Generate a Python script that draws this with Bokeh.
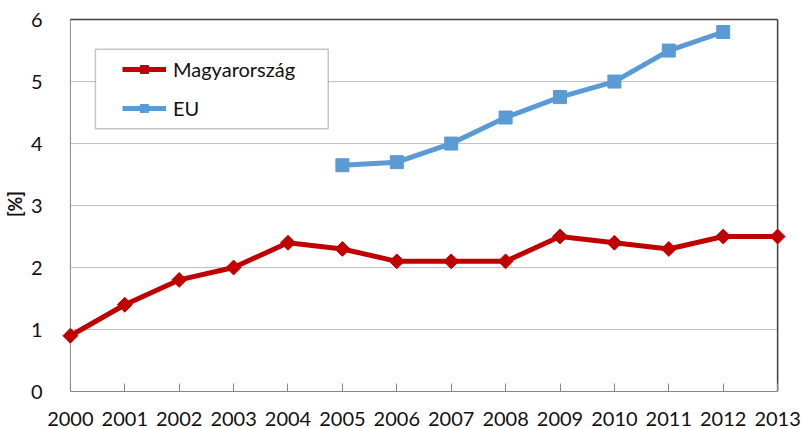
import math
from bokeh.plotting import figure
from bokeh.models import Range1d, FixedTicker, Legend, LegendItem, BoxAnnotation
from bokeh.embed import file_html
from bokeh.resources import INLINE

years = list(range(2000, 2014))
hu_values = [0.9, 1.4, 1.8, 2.0, 2.4, 2.3, 2.1, 2.1, 2.1, 2.5, 2.4, 2.3, 2.5, 2.5]
eu_years = list(range(2005, 2013))
eu_values = [3.65, 3.7, 4.0, 4.42, 4.75, 5.0, 5.5, 5.8]
y_ticks = [0, 1, 2, 3, 4, 5, 6]
series_names = ["Magyarország", "EU"]

FONT = "Lato"
RED = "#C00000"
BLUE = "#5B9BD5"
TXT = "#111111"
PAD_X = 0.2   # extra frame room (years) so edge markers are not clipped
PAD_Y = 0.05  # extra frame room on top so the top border is not clipped

p = figure(width=801, height=428, output_backend="svg", toolbar_location=None,
           x_range=Range1d(years[0] - PAD_X, years[-1] + PAD_X),
           y_range=Range1d(y_ticks[0], y_ticks[-1] + PAD_Y),
           min_border_left=59, min_border_right=13, min_border_top=16, min_border_bottom=37)
p.outline_line_color = None
p.background_fill_color = "white"
p.border_fill_color = "white"
p.xgrid.visible = False
p.ygrid.visible = False

# horizontal gridlines spanning the category extent only
p.segment(x0=[years[0]] * (len(y_ticks) - 2), x1=[years[-1]] * (len(y_ticks) - 2),
          y0=y_ticks[1:-1], y1=y_ticks[1:-1], line_color="#BFBFBF", line_width=1)
# left value-axis line
p.segment(x0=[years[0]], x1=[years[0]], y0=[y_ticks[0]], y1=[y_ticks[-1]],
          line_color="#868686", line_width=1)
# top and right plot-area border
p.segment(x0=[years[0], years[-1]], x1=[years[-1], years[-1]],
          y0=[y_ticks[-1], y_ticks[0]], y1=[y_ticks[-1], y_ticks[-1]],
          line_color="#404040", line_width=1.5)

xa = p.xaxis[0]
xa.ticker = FixedTicker(ticks=years)
xa.bounds = (years[0], years[-1])
xa.major_label_overrides = {y: str(y) for y in years}
xa.axis_line_color = "#868686"
xa.major_tick_line_color = "#868686"
xa.major_tick_in = 8
xa.major_tick_out = 0
xa.minor_tick_line_color = None
xa.major_label_standoff = 20
xa.major_label_text_font = FONT
xa.major_label_text_font_size = "20px"
xa.major_label_text_color = TXT

ya = p.yaxis[0]
ya.ticker = FixedTicker(ticks=y_ticks)
ya.axis_line_color = None
ya.major_tick_line_color = None
ya.minor_tick_line_color = None
ya.major_label_standoff = 11
ya.major_label_text_font = FONT
ya.major_label_text_font_size = "20px"
ya.major_label_text_color = TXT
ya.axis_label = "[%]"
ya.axis_label_text_font = FONT
ya.axis_label_text_font_size = "18px"
ya.axis_label_text_font_style = "bold"
ya.axis_label_text_color = TXT
ya.axis_label_standoff = 2

hu_line = p.line(years, hu_values, line_color=RED, line_width=5, line_join="round")
hu_pts = p.scatter(years, hu_values, marker="square", angle=math.pi / 4, size=10.5,
                   fill_color=RED, line_color=RED, line_width=1)
eu_line = p.line(eu_years, eu_values, line_color=BLUE, line_width=5, line_join="round")
eu_pts = p.scatter(eu_years, eu_values, marker="square", size=13, fill_color=BLUE, line_color=BLUE)

# legend frame (Excel-style box), in data units of the plot area
p.add_layout(BoxAnnotation(left=2000.46, right=2004.74, bottom=4.24, top=5.52,
                           fill_color="white", fill_alpha=1,
                           line_color="#404040", line_width=1.5, level="annotation"))

legend = Legend(items=[LegendItem(label=series_names[0], renderers=[hu_line, hu_pts]),
                       LegendItem(label=series_names[1], renderers=[eu_line, eu_pts])],
                location=(63, 271))
legend.border_line_color = None
legend.background_fill_alpha = 0
legend.padding = 0
legend.spacing = 15
legend.margin = 0
legend.glyph_width = 44
legend.glyph_height = 20
legend.label_height = 20
legend.label_standoff = 7
legend.label_text_font = FONT
legend.label_text_font_size = "20px"
legend.label_text_color = TXT
p.add_layout(legend, "center")

open("out.html", "w").write(file_html(p, INLINE))
